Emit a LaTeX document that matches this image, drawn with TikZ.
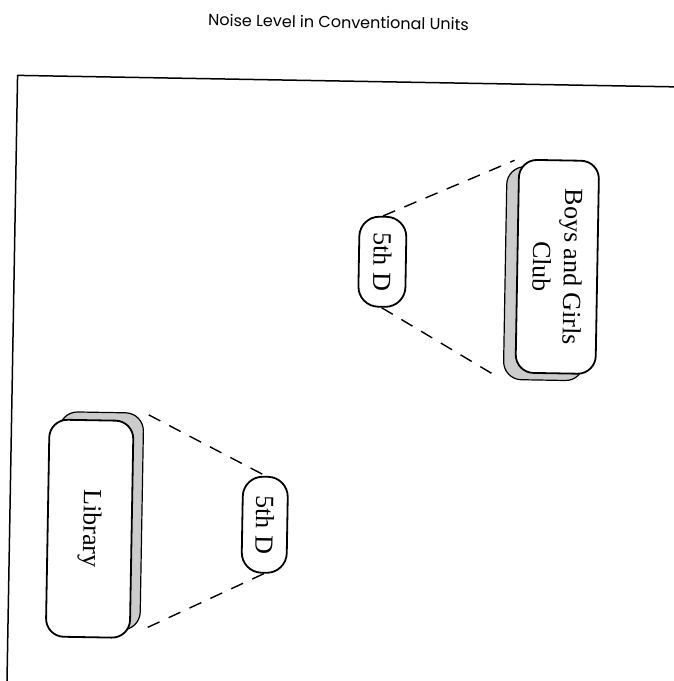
\documentclass[tikz,border=0pt]{standalone}
\usepackage{fontspec}
\setmainfont{Liberation Serif}
\newfontfamily\titlefont{Poppins}
\usepackage{tikz}
\pgfdeclarelayer{background}
\pgfdeclarelayer{foreground}
\pgfsetlayers{background,main,foreground}
\tikzset{
  placebox/.style={draw, line width=1.8pt, fill=white, rounded corners=18pt, rotate=-90,
    inner sep=0pt, align=center, font=\fontsize{26}{31}\selectfont},
  shadebox/.style={placebox, fill=gray!40, line width=1.2pt},
  sightline/.style={line width=1.4pt, dash pattern=on 13pt off 10pt}
}

\begin{document}
\begin{tikzpicture}[x=1pt,y=1pt]
\useasboundingbox (0,0) rectangle (674,681);
\begin{scope}[rotate around={-1:(337,341)}, transform shape]
\node (title) at (333,659) {\titlefont\fontsize{16}{19}\selectfont Noise Level in Conventional Units};
\coordinate (frametl) at (13,600);
\coordinate (frametr) at (690,600);
\coordinate (framebl) at (13,-20);
\draw[line width=1.5pt] (frametr) -- (frametl) -- (framebl);
% boys and girls club
\node[placebox, minimum width=213pt, minimum height=80pt] (club) at (556,418) {Boys and Girls\\Club};
\node[placebox, minimum width=90pt, minimum height=47pt, rounded corners=20pt] (upd) at (381,420) {5th D};
% library
\node[placebox, minimum width=217pt, minimum height=84pt] (lib) at (93,148) {Library};
\node[placebox, minimum width=96pt, minimum height=45pt, rounded corners=20pt] (lowd) at (268,155) {5th D};
\begin{pgfonlayer}{background}
\node[shadebox, minimum width=213pt, minimum height=80pt] (clubshade) at (544,411) {};
\node[shadebox, minimum width=217pt, minimum height=84pt] (libshade) at (103,156) {};
\draw[sightline, shorten >=4pt] (upd.west) -- (club.south west);
\draw[sightline, shorten >=6pt] (upd.east) -- (clubshade.south east);
\draw[sightline, shorten <=5pt] (libshade.north west) -- (lowd.west);
\draw[sightline, shorten <=8pt] (libshade.north east) -- (lowd.east);
\end{pgfonlayer}
\end{scope}
\end{tikzpicture}
\end{document}
